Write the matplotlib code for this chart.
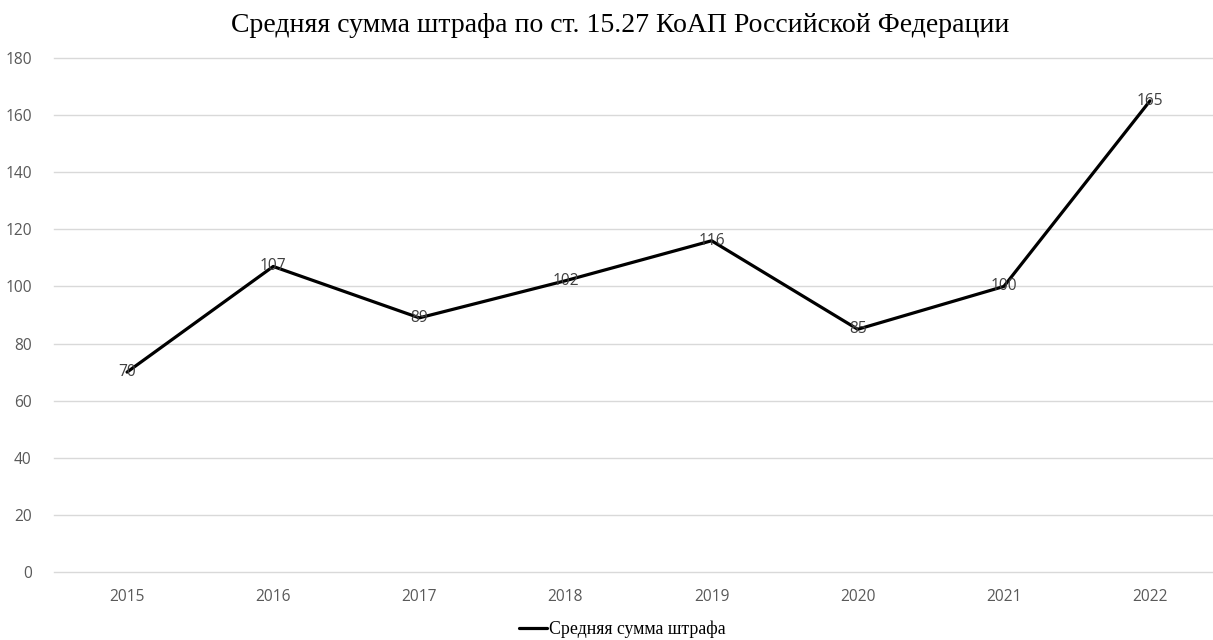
import matplotlib
matplotlib.use("Agg")
import matplotlib.pyplot as plt

years = ["2015", "2016", "2017", "2018", "2019", "2020", "2021", "2022"]
fines = [70, 107, 89, 102, 116, 85, 100, 165]
y_ticks = [0, 20, 40, 60, 80, 100, 120, 140, 160, 180]

title = "Средняя сумма штрафа по ст. 15.27 КоАП Российской Федерации"
series_name = "Средняя сумма штрафа"

W, H = 1213, 640
fig = plt.figure(figsize=(W / 100, H / 100), dpi=100)
ax = fig.add_axes([54 / W, 1 - 572 / H, (1212 - 54) / W, (572 - 58) / H])

x = list(range(len(years)))
ax.plot(x, fines, color="black", lw=2.3, solid_capstyle="round",
        solid_joinstyle="round", label=series_name, zorder=3)

for xi, v in zip(x, fines):
    ax.text(xi, v, str(v), ha="center", va="center", fontsize=11.2,
            color="#404040", family="Open Sans", zorder=4)

ax.set_ylim(0, 180)
ax.set_xlim(-0.5, 7 + (1212 - 1150) / 146.1)
ax.set_yticks(y_ticks)
ax.set_xticks(x)
ax.set_xticklabels(years)
ax.yaxis.grid(True, color="#d9d9d9", lw=1)
for gl in ax.get_ygridlines():
    gl.set_clip_on(False)
ax.set_axisbelow(True)
for s in ax.spines.values():
    s.set_visible(False)
ax.tick_params(length=0, colors="#595959", labelsize=11.2)
ax.tick_params(axis="x", pad=12)
ax.tick_params(axis="y", pad=16)
for lbl in ax.get_xticklabels() + ax.get_yticklabels():
    lbl.set_family("Open Sans")

fig.text(620 / W, 1 - 26 / H, title, ha="center", va="center",
         fontsize=20, family="Liberation Serif", color="black")

leg = fig.legend(loc="center", bbox_to_anchor=(622 / W, 1 - 629 / H),
                 frameon=False, prop={"family": "Liberation Serif", "size": 12.8},
                 handlelength=1.6, handletextpad=0.1)

fig.savefig("out.png", dpi=100, facecolor="white")
